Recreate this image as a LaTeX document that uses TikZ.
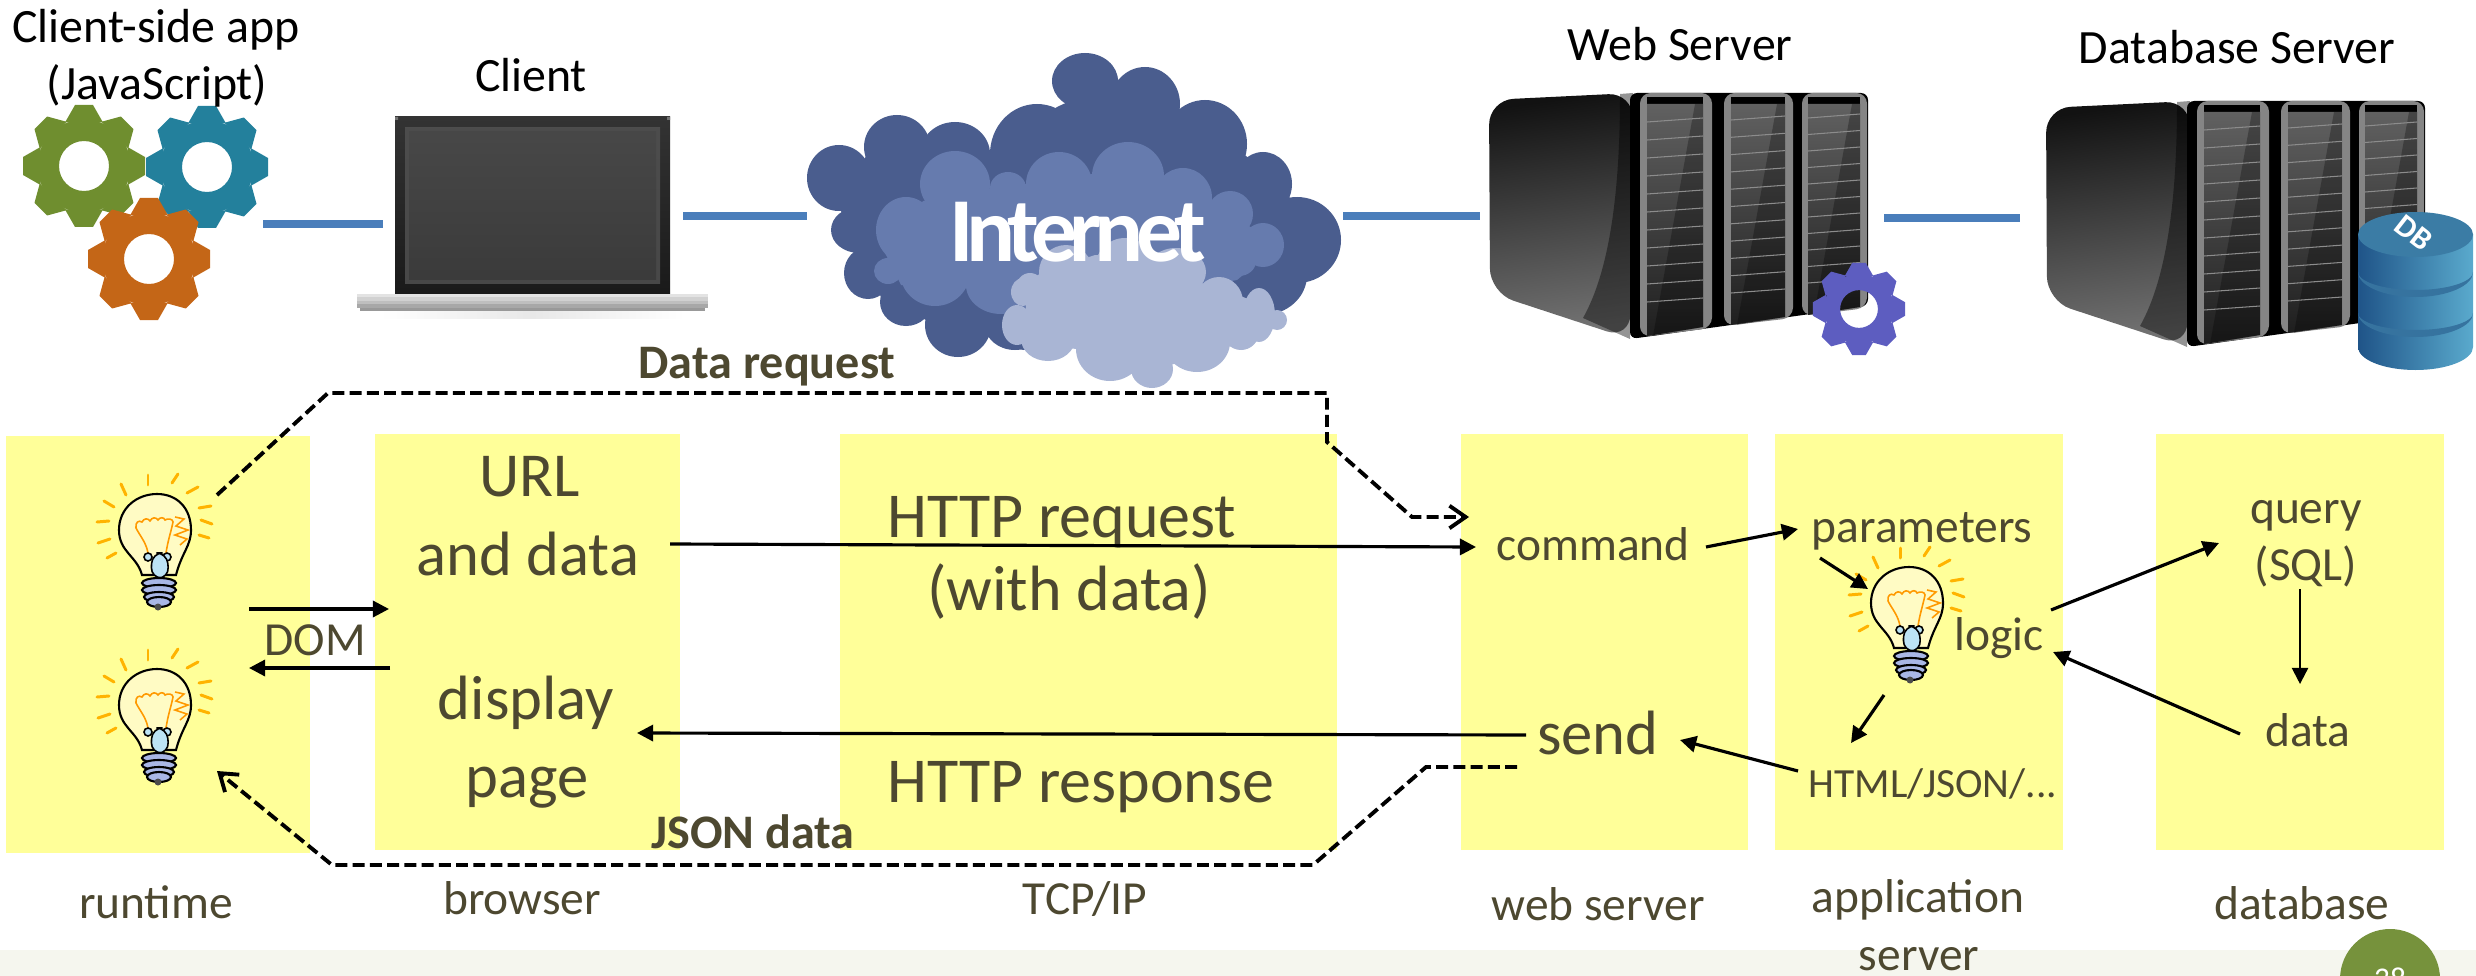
\documentclass[tikz,border=0pt]{standalone}
\usepackage{fontspec}
\setmainfont{Carlito}
\usetikzlibrary{arrows.meta}
\definecolor{textolive}{HTML}{4D4830}
\definecolor{paneyellow}{HTML}{FFFF99}
\definecolor{linkblue}{HTML}{4A7EBB}
\definecolor{bandgrey}{HTML}{F5F6EE}
\definecolor{pagegreen}{HTML}{76923C}
\definecolor{cloudA}{HTML}{4A5D8E}
\definecolor{cloudB}{HTML}{667BAE}
\definecolor{cloudC}{HTML}{A9B5D4}
\definecolor{gearA}{HTML}{6F8E2F}
\definecolor{gearB}{HTML}{23809C}
\definecolor{gearC}{HTML}{C46617}
\definecolor{gearD}{HTML}{5D5DC0}
\definecolor{rayorange}{HTML}{FFB300}
\definecolor{filorange}{HTML}{FF9900}
\definecolor{glassyellow}{HTML}{FFFBC4}
\definecolor{stemblue}{HTML}{BCE3F5}
\definecolor{screwblue}{HTML}{A9B7E6}
\definecolor{drumA}{HTML}{1F5488}
\definecolor{drumM}{HTML}{3D85AE}
\definecolor{drumB}{HTML}{5AAACD}
\definecolor{drumC}{HTML}{3B7CA5}
\definecolor{drumD}{HTML}{36739F}
\tikzset{
  pane/.style={fill=paneyellow},
  link/.style={draw=linkblue, line width=2.4pt},
  msg/.style={draw=black, line width=0.9pt, -{Triangle[length=4.6pt,width=4.6pt]}},
  thinmsg/.style={msg, line width=0.6pt},
  dashmsg/.style={draw=black, line width=1.1pt, dash pattern=on 3.4pt off 1.5pt, -{Straight Barb[length=4.6pt,width=6.4pt]}},
  title/.style={black, font=\fontsize{13.6}{17}\selectfont},
  big/.style={textolive, font=\fontsize{17.8}{21}\selectfont},
  httptext/.style={textolive, font=\fontsize{18.2}{21}\selectfont},
  small/.style={textolive, font=\fontsize{13.5}{16}\selectfont},
  boldlab/.style={textolive, font=\fontsize{13.7}{16}\selectfont\bfseries},
  pics/gear/.style={code={
    \fill[#1, even odd rule] (0,0) circle (46.5) (0,0) circle (25);
    \foreach \a in {0,45,...,315}
      \fill[#1, rotate=\a] (-19,43.5) -- (-9,61) -- (9,61) -- (19,43.5) -- cycle;
  }},
  pics/bulb/.style={code={
    \foreach \xa/\ya/\xb/\yb in {-7/-19/-7/-9, 23/-20/17/-11, 43/-7/32/-1, -34/-10/-29/1,
      -51/7/-41/13, 44/14/56/12, -58/28/-46/27, 46/26/57/30, -57/49/-45/45, 44/41/54/44, -48/64/-39/59}
      \draw[rayorange, line width=0.85pt, line cap=round] (\xa,\ya) -- (\xb,\yb);
    \draw[fill=glassyellow, line width=0.6pt] (-13,81) .. controls (-18,62) and (-36,58) .. (-36,36)
      .. controls (-36,14) and (-18,0) .. (2,0) .. controls (22,0) and (36,14) .. (36,36)
      .. controls (36,52) and (27,58) .. (21,81) -- cycle;
    \draw[filorange, line width=0.45pt] (-7,59) .. controls (-9,48) and (-15,42) .. (-19,34)
      .. controls (-20,28) and (-16,26) .. (-13,28) .. controls (-11,24) and (-7,24) .. (-5,27)
      .. controls (-3,23) and (1,23) .. (3,26) .. controls (5,23) and (9,23) .. (10,26)
      .. controls (13,24) and (18,25) .. (18,28) .. controls (16,38) and (13,46) .. (11,59);
    \draw[filorange, line width=0.45pt] (20,23) -- (29,25) -- (21,32) -- (33,36) -- (20,41) -- (32,45) -- (25,51);
    \draw[fill=stemblue, line width=0.45pt] (-7,63) circle (4) (12,63) circle (4);
    \draw[fill=stemblue, line width=0.45pt, rounded corners=3] (-3,59) -- (12,59) -- (14,84) -- (-4,84) -- cycle;
    \foreach \sy/\srx in {89/17, 96/17, 103/15, 108/12}
      \draw[fill=screwblue, line width=0.6pt] (4,\sy) ellipse [x radius=\srx, y radius=5];
    \fill[black!70] (3,113) circle (3.5);
  }},
  pics/rack/.style={code={
    % side wall
    \shade[rounded corners=7, top color=black!93, bottom color=black!55, shading angle=8]
      (1489,100) -- (1633,93) -- (1630,339) -- (1490,293) -- cycle;
    \fill[black, opacity=0.42] (1633,93) -- (1630,339) -- (1583,318) .. controls (1610,270) and (1620,190) .. (1620,94) -- cycle;
    % front of the three units
    \fill[black, rounded corners=2] (1630,93) -- (1868,93) -- (1868,306) -- (1630,339) -- cycle;
    \foreach \xa/\xb/\sa/\sb/\ya/\yb/\ln/\dy in {1647/1703/1640/1712/337/328/122/18, 1731/1785/1724/1793/326/318/120/17.3, 1808/1860/1802/1867/316/308/118/16.5}{
      \fill[black!48, rounded corners=3] (\sa,93) -- (\sb,93) -- (\sb,\yb) -- (\sa,\ya) -- cycle;
      \fill[black] (\xa,97) rectangle (\xb,104);
      \shade[top color=black!62, bottom color=black!88] (\xa,104) -- (\xb,104) -- (\xb,\yb-1) -- (\xa,\ya-1) -- cycle;
      \fill[black, opacity=0.28] (\xb-8,104) -- (\xb,104) -- (\xb,\yb-1) -- (\xa+6,\ya-1) -- cycle;
      \foreach \n in {0,...,10}
        \draw[black!45, line width=0.3pt] (\xa,{\ln+\n*\dy}) -- (\xb,{\ln+\n*\dy-4});
    }
  }}
}

\begin{document}
\begin{tikzpicture}[x=0.01cm, y=-0.01cm]
  \useasboundingbox (0,0) rectangle (2476,976);

  \fill[bandgrey] (0,950) rectangle (2476,976);
  \fill[pagegreen] (2390,979) circle (50);
  \node (pagenum) [white, font=\fontsize{9}{11}\selectfont] at (2390,979) {38};

  \fill[pane] (6,436) rectangle (310,853);
  \fill[pane] (375,434) rectangle (680,850);
  \fill[pane] (840,434) rectangle (1337,850);
  \fill[pane] (1461,434) rectangle (1748,850);
  \fill[pane] (1775,434) rectangle (2063,850);
  \fill[pane] (2156,434) rectangle (2444,850);

  % gears
  \pic at (84,166) {gear=gearA};
  \pic at (207,167) {gear=gearB};
  \pic at (149,259) {gear=gearC};

  % laptop
  \shade[top color=black!80, bottom color=black!90] (395,117) rectangle (670,294);
  \fill[black!55] (395,117) rectangle (398,120) (667,117) rectangle (670,120);
  \shade[top color=black!70, bottom color=black!72] (405,128) rectangle (660,283);
  \shade[top color=black!72, bottom color=black!77] (409,132) rectangle (656,279);
  \foreach \ya/\yb/\g in {294/297/11, 297/301/18, 301/304/25, 304/308/34}
    \fill[black!\g] (357,\ya) rectangle (708,\yb);
  \fill[black!40] (360,308) rectangle (705,311);
  \shade[left color=white, right color=white, middle color=black!9] (380,311) rectangle (685,318);

  % cloud
  \fill[cloudA] (866,156) -- (930,136) -- (990,156) -- (1057,107) -- (1117,79) -- (1179,109) -- (1246,156) -- (1290,198)
    -- (1308,280) -- (1270,312) -- (1023,350) -- (988,337) -- (926,320) -- (881,297) -- (859,251) -- (841,211) -- cycle;
  \foreach \cx/\cy/\rx/\ry in {1085/81/33/28, 1145/104/35/37, 1205/144/42/44, 1037/154/47/50,
    897/147/33/32, 955/154/35/32, 839/178/32/33, 1263/184/29/32, 1297/240/44/43, 1263/275/44/40,
    859/230/28/23, 868/273/24/26, 906/302/26/24, 958/325/33/32, 1015/325/30/25}
    \fill[cloudA] (\cx,\cy) ellipse [x radius=\rx, y radius=\ry];
  \fill[cloudB] (923,201) -- (991,188) -- (1026,184) -- (1092,174) -- (1165,176) -- (1210,201) -- (1252,228) -- (1255,265)
    -- (1237,280) -- (1154,295) -- (1005,313) -- (966,288) -- (901,285) -- (885,253) -- cycle;
  \foreach \cx/\cy/\rx/\ry in {955/184/35/33, 906/230/30/33, 1008/188/18/16, 1059/184/33/32,
    1128/176/36/34, 1183/198/29/30, 1230/214/23/23, 1263/245/21/22, 1239/261/17/15,
    888/271/14/13, 935/272/35/34, 1001/285/35/29}
    \fill[cloudB] (\cx,\cy) ellipse [x radius=\rx, y radius=\ry];
  \fill[cloudC] (1041,273) -- (1095,255) -- (1161,255) -- (1205,285) -- (1243,297) -- (1272,308) -- (1270,332) -- (1228,347)
    -- (1174,364) -- (1130,374) -- (1077,349) -- (1023,344) -- (1026,305) -- (1019,288) -- cycle;
  \foreach \cx/\cy/\rx/\ry in {1023/292/12/14, 1017/325/15/20, 1048/339/27/22, 1110/349/34/32,
    1152/369/21/19, 1197/342/33/30, 1241/332/18/18, 1259/315/16/27, 1277/320/10/10,
    1219/302/24/25, 1066/272/27/27, 1125/268/30/30, 1176/272/30/24, 1030/288/14/15}
    \fill[cloudC] (\cx,\cy) ellipse [x radius=\rx, y radius=\ry];
  \node (internet) [white, font=\fontsize{26}{30}\selectfont\bfseries\addfontfeature{LetterSpace=-8}] at (1078,232) {Internet};

  % servers
  \pic at (0,0) {rack};
  \pic at (557,8) {rack};
  \pic[scale=0.755] at (1859,309) {gear=gearD};

  % db drum
  \shade[left color=drumA, middle color=drumM, right color=drumB]
    (2358,234) -- (2358,347) arc[start angle=180, end angle=0, x radius=57.5, y radius=23] -- (2473,234) -- cycle;
  \fill[drumD] (2358,272) arc[start angle=180, end angle=0, x radius=57.5, y radius=18]
    arc[start angle=0, end angle=180, x radius=57.5, y radius=25] -- cycle;
  \fill[drumD] (2358,313) arc[start angle=180, end angle=0, x radius=57.5, y radius=17]
    arc[start angle=0, end angle=180, x radius=57.5, y radius=24] -- cycle;
  \fill[drumC] (2415.5,234.5) ellipse [x radius=57.5, y radius=22.5];
  \node (dblabel) [white, rotate=-38, font=\fontsize{9}{11}\selectfont\bfseries] at (2414,233) {DB};

  % bulbs
  \pic at (155,494) {bulb};
  \pic at (155,669) {bulb};
  \pic at (1907,567) {bulb};

  % top row texts
  \node (clientapp) [title] at (156,30) {Client-side app};
  \node (javascript) [title] at (157,86) {(JavaScript)};
  \node (client) [title] at (531,75) {Client};
  \node (webserver) [title] at (1680,44) {Web Server};
  \node (dbserver) [title] at (2237,47) {Database Server};

  % texts in the panes
  \node (url) [big] at (530,477) {URL};
  \node (anddata) [big] at (528,554) {and data};
  \node (display) [big] at (526,703) {display};
  \node (page) [big] at (527,788) {page};
  \node (httpreq) [httptext, anchor=west] at (875,522) {HTTP request};
  \node (withdata) [httptext] at (1069,592) {(with data)};
  \node (httpresp) [httptext, anchor=west] at (875,787) {HTTP response};
  \node (send) [big] at (1598,733) {send};
  \node (command) [small] at (1593,544) {command};
  \node (parameters) [small] at (1922,531) {parameters};
  \node (logic) [small] at (1999,638) {logic};
  \node (query) [small] at (2306,516) {query};
  \node (sql) [small] at (2306,566) {(SQL)};
  \node (data) [small] at (2308,730) {data};
  \node (htmljson) [textolive, font=\fontsize{11.8}{14}\selectfont] at (1933,784) {HTML/JSON/...};
  \node (dom) [small] at (315,640) {DOM};
  \node (datareq) [boldlab] at (767,367) {Data request};
  \node (jsondata) [boldlab] at (753,832) {JSON data};

  % labels under the panes
  \node (runtime) [small] at (156,902) {runtime};
  \node (browser) [small] at (522,898) {browser};
  \node (tcpip) [small] at (1085,899) {TCP/IP};
  \node (weblabel) [small] at (1598,904) {web server};
  \node (application) [small] at (1918,900) {application};
  \node (appserver) [small] at (1919,959) {server};
  \node (database) [small] at (2302,903) {database};

  % blue links
  \coordinate (0) at (263,224);
  \coordinate (1) at (383,224);
  \coordinate (2) at (683,216);
  \coordinate (3) at (807,216);
  \coordinate (4) at (1343,216);
  \coordinate (5) at (1480,216);
  \coordinate (6) at (1884,218);
  \coordinate (7) at (2020,218);
  \foreach \a/\b in {0/1,2/3,4/5,6/7}
    \draw[link] (\a) -- (\b);

  % request and response messages
  \coordinate (urlout) at (670,544);
  \coordinate (cmdin) at (1476,547);
  \coordinate (sendout) at (1526,735);
  \coordinate (pagein) at (637,733);
  \coordinate (domA) at (249,609);
  \coordinate (domB) at (389,609);
  \coordinate (domC) at (390,668);
  \coordinate (domD) at (249,668);
  \coordinate (cmdout) at (1706,547);
  \coordinate (parin) at (1798,529);
  \coordinate (parout) at (1820,558);
  \coordinate (bulbin) at (1868,589);
  \coordinate (bulbout) at (1884,695);
  \coordinate (htmlin) at (1851,743);
  \coordinate (htmlout) at (1798,771);
  \coordinate (sendin) at (1680,740);
  \coordinate (logicout) at (2051,610);
  \coordinate (queryin) at (2219,543);
  \coordinate (queryout) at (2300,589);
  \coordinate (datain) at (2300,684);
  \coordinate (dataout) at (2240,734);
  \coordinate (logicin) at (2053,652);
  \draw[msg] (urlout) -- (cmdin);
  \draw[msg] (sendout) -- (pagein);
  \draw[msg] (domA) -- (domB);
  \draw[msg] (domC) -- (domD);
  \draw[msg] (cmdout) -- (parin);
  \draw[msg] (parout) -- (bulbin);
  \draw[msg] (bulbout) -- (htmlin);
  \draw[msg] (htmlout) -- (sendin);
  \draw[msg] (logicout) -- (queryin);
  \draw[thinmsg] (queryout) -- (datain);
  \draw[msg] (dataout) -- (logicin);

  % dashed routes
  \coordinate (reqA) at (217,495);
  \coordinate (reqB) at (328,393);
  \coordinate (reqC) at (1327,393);
  \coordinate (reqD) at (1327,442);
  \coordinate (reqE) at (1412,517);
  \coordinate (reqF) at (1469,517);
  \coordinate (jsA) at (1517,767);
  \coordinate (jsB) at (1426,767);
  \coordinate (jsC) at (1313,865);
  \coordinate (jsD) at (332,865);
  \coordinate (jsE) at (217,771);
  \draw[dashmsg] (reqA) -- (reqB) -- (reqC) -- (reqD) -- (reqE) -- (reqF);
  \draw[dashmsg] (jsA) -- (jsB) -- (jsC) -- (jsD) -- (jsE);
\end{tikzpicture}
\end{document}
